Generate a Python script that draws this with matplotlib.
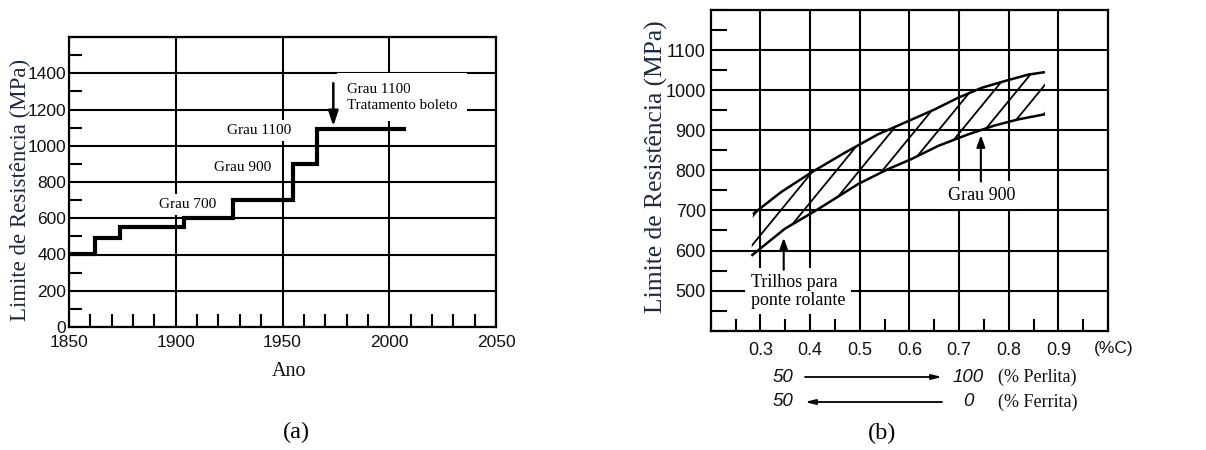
import matplotlib
matplotlib.use("Agg")
import matplotlib.pyplot as plt
import numpy as np
from matplotlib.patches import Polygon
from matplotlib.collections import LineCollection
from matplotlib.ticker import MultipleLocator

# ---------------- data: panel (a) ----------------
step_years = [1850, 1862, 1874, 1904, 1927, 1955, 1966, 2008]
step_strength = [405, 490, 550, 600, 700, 900, 1095]
a_xticks = [1850, 1900, 1950, 2000, 2050]
a_yticks = [0, 200, 400, 600, 800, 1000, 1200, 1400, 1600]
a_yticklabels = ["0", "200", "400", "600", "800", "1000", "1200", "1400", ""]

# ---------------- data: panel (b) ----------------
carbon_upper = [0.285, 0.342, 0.403, 0.47, 0.537, 0.598, 0.651, 0.698, 0.746, 0.793, 0.84, 0.873]
strength_upper = [691, 746, 795, 844, 890, 923, 952, 981, 1006, 1023, 1039, 1045]
carbon_lower = [0.282, 0.349, 0.416, 0.497, 0.557, 0.604, 0.658, 0.719, 0.772, 0.819, 0.873]
strength_lower = [587, 654, 703, 766, 803, 828, 861, 890, 912, 927, 940]
b_xticks = [0.3, 0.4, 0.5, 0.6, 0.7, 0.8, 0.9]
b_xticklabels = ["0.3", "0.4", "0.5", "0.6", "0.7", "0.8", "0.9"]
b_yticks = [500, 600, 700, 800, 900, 1000, 1100]
b_yticklabels = ["500", "600", "700", "800", "900", "1000", "1100"]

SERIF = "Liberation Serif"
SANS = "Liberation Sans"
LABEL_COLOR = "#1c2945"

fig = plt.figure(figsize=(12.06, 4.5), dpi=100)
W, H = 1206, 450

def ax_rect(l, t, r, b):
    return [l / W, 1 - b / H, (r - l) / W, (b - t) / H]

# ======================= panel (a) =======================
axa = fig.add_axes(ax_rect(69, 37, 496, 327))
axa.set_axisbelow(True)
axa.set_xlim(1850, 2050)
axa.set_ylim(0, 1600)
axa.set_xticks(a_xticks)
axa.set_yticks(a_yticks)
axa.set_yticklabels(a_yticklabels)
axa.xaxis.set_minor_locator(MultipleLocator(10))
axa.yaxis.set_minor_locator(MultipleLocator(100))
axa.grid(True, which="major", color="black", lw=1.5)
axa.tick_params(which="major", length=0, labelsize=12.5, colors="#111111")
axa.tick_params(axis="y", which="major", pad=2)
axa.tick_params(axis="x", which="major", pad=6)
axa.tick_params(which="minor", direction="in", length=9.5, width=1.5, color="black")
for lab in axa.get_xticklabels() + axa.get_yticklabels():
    lab.set_fontfamily(SANS)
for s in axa.spines.values():
    s.set_linewidth(1.6)

axa.stairs(step_strength, step_years, baseline=None, color="black", lw=3.0, zorder=4)

box = dict(facecolor="white", edgecolor="none", pad=3)
axa.text(1954.3, 1083, "Grau 1100", ha="right", va="center", fontsize=11,
         family=SERIF, bbox=box, zorder=3)
axa.text(1944.5, 880, "Grau 900", ha="right", va="center", fontsize=11,
         family=SERIF, bbox=box, zorder=3)
axa.text(1919, 677, "Grau 700", ha="right", va="center", fontsize=11,
         family=SERIF, bbox=box, zorder=3)
axa.text(1980, 1268, "Grau 1100\nTratamento boleto", ha="left", va="center",
         fontsize=10.8, family=SERIF, linespacing=1.3,
         bbox=dict(facecolor="white", edgecolor="none", pad=7), zorder=3)
axa.annotate("", xy=(1973.8, 1108), xytext=(1973.8, 1345),
             arrowprops=dict(arrowstyle="-|>,head_length=0.9,head_width=0.3",
                             color="black", lw=1.8, shrinkA=0, shrinkB=0), zorder=5)

axa.set_ylabel("Limite de Resistência (MPa)", family=SERIF, fontsize=16.5,
               color=LABEL_COLOR, va="center")
axa.yaxis.set_label_coords(-0.1148, 0.472)
axa.set_xlabel("Ano", family=SERIF, fontsize=14.5, color="#111111", va="center")
axa.xaxis.set_label_coords(0.515, -0.155)

# ======================= panel (b) =======================
axb = fig.add_axes(ax_rect(710.7, 10, 1108, 330.7))
axb.set_axisbelow(True)
axb.set_xlim(0.2, 1.0)
axb.set_ylim(400, 1200)
axb.set_xticks(b_xticks)
axb.set_xticklabels(b_xticklabels)
axb.set_yticks(b_yticks)
axb.set_yticklabels(b_yticklabels)
axb.xaxis.set_minor_locator(MultipleLocator(0.05))
axb.yaxis.set_minor_locator(MultipleLocator(50))
axb.grid(True, which="major", color="black", lw=1.5)
axb.tick_params(which="major", length=0, labelsize=13, colors="#111111")
axb.tick_params(axis="y", which="major", pad=3.5)
axb.tick_params(axis="x", which="major", pad=8)
axb.tick_params(axis="x", which="minor", direction="in", length=8.5, width=1.5)
axb.tick_params(axis="y", which="minor", direction="in", length=11.5, width=1.5)
for lab in axb.get_xticklabels() + axb.get_yticklabels():
    lab.set_fontfamily(SANS)
for s in axb.spines.values():
    s.set_linewidth(1.6)

# band boundaries
axb.plot(carbon_upper, strength_upper, color="black", lw=1.8, zorder=4, solid_capstyle="butt")
axb.plot(carbon_lower, strength_lower, color="black", lw=1.8, zorder=4, solid_capstyle="butt")

# hatching of the band (style: parallel lines clipped to the band)
band_xy = list(zip(carbon_upper, strength_upper)) + list(zip(carbon_lower, strength_lower))[::-1]
band = Polygon(band_xy, closed=True, facecolor="none", edgecolor="none", transform=axb.transData)
axb.add_patch(band)
slope = 1.22 * (397.3 / 320.7)
spacing = 0.058
offsets = np.arange(-1.0, 1.5, spacing)
segs = [[(c, 0.0), (c + 1.0 / slope, 1.0)] for c in offsets]
hatch = LineCollection(segs, colors="black", linewidths=1.3, transform=axb.transAxes, zorder=3)
hatch.set_clip_path(band)
axb.add_collection(hatch)

boxb = dict(facecolor="white", edgecolor="none", pad=4)
axb.text(0.7455, 738, "Grau 900", ha="center", va="center", fontsize=13,
         family=SERIF, bbox=boxb, zorder=3)
axb.annotate("", xy=(0.744, 888), xytext=(0.744, 772),
             arrowprops=dict(arrowstyle="-|>,head_length=0.7,head_width=0.25",
                             color="black", lw=1.5, shrinkA=0, shrinkB=0), zorder=5)
axb.text(0.2805, 498, "Trilhos para\nponte rolante", ha="left", va="center", fontsize=13,
         family=SERIF, linespacing=1.05, bbox=boxb, zorder=3)
axb.annotate("", xy=(0.347, 632), xytext=(0.347, 552),
             arrowprops=dict(arrowstyle="-|>,head_length=0.7,head_width=0.25",
                             color="black", lw=1.5, shrinkA=0, shrinkB=0), zorder=5)

axb.text(1.015, -0.054, "(%C)", transform=axb.transAxes, ha="center", va="center",
         fontsize=12.5, family=SANS, color="#111111")

# perlite / ferrite scales
def bx(px):
    return (px - 710.7) / 397.3

def by(py):
    return (330.7 - py) / 320.7

rows = [(377, "50", "100", "(% Perlita)", "right"), (402, "50", "0", "(% Ferrita)", "left")]
for py, left_txt, right_txt, name, direction in rows:
    y = by(py)
    axb.text(bx(793), y, left_txt, transform=axb.transAxes, ha="right", va="center",
             fontsize=13.5, family=SANS, style="italic", color="#111111", clip_on=False)
    axb.text(bx(968.5), y, right_txt, transform=axb.transAxes, ha="center", va="center",
             fontsize=13.5, family=SANS, style="italic", color="#111111", clip_on=False)
    axb.text(bx(998), y, name, transform=axb.transAxes, ha="left", va="center",
             fontsize=13, family=SERIF, color="#111111", clip_on=False)
    if direction == "right":
        start, end = bx(805), bx(942)
    else:
        start, end = bx(942), bx(805)
    axb.annotate("", xy=(end, y), xytext=(start, y), xycoords="axes fraction",
                 textcoords="axes fraction", annotation_clip=False,
                 arrowprops=dict(arrowstyle="-|>,head_length=0.6,head_width=0.15",
                                 color="black", lw=1.3, shrinkA=0, shrinkB=0))

axb.set_ylabel("Limite de Resistência (MPa)", family=SERIF, fontsize=18.4,
               color=LABEL_COLOR, va="center")
axb.yaxis.set_label_coords(-0.1377, 0.512)

# panel letters
fig.text(296 / W, 1 - 432 / H, "(a)", ha="center", va="center", family=SERIF, fontsize=17.5)
fig.text(882 / W, 1 - 433 / H, "(b)", ha="center", va="center", family=SERIF, fontsize=17.5)

fig.savefig("out.png", dpi=100)
